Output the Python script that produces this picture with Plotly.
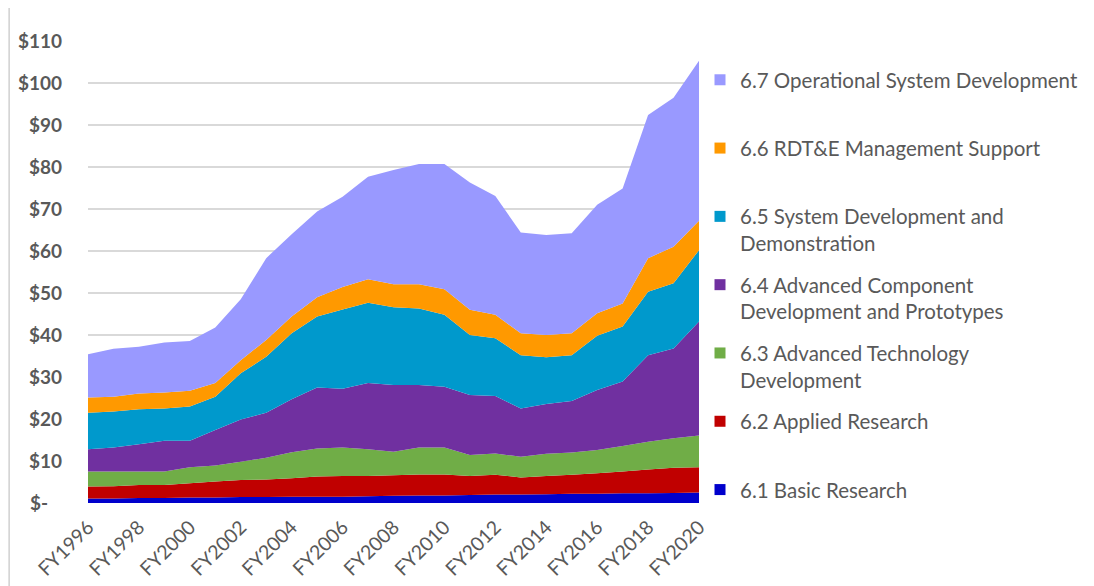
import plotly.graph_objects as go

years = list(range(1996, 2021))
tick_years = list(range(1996, 2021, 2))
tick_labels = [f"FY{y}" for y in tick_years]

basic_research = [1.1, 1.1, 1.2, 1.2, 1.3, 1.3, 1.4, 1.4, 1.5, 1.5, 1.5, 1.6, 1.7,
                  1.8, 1.8, 1.9, 2.0, 2.0, 2.1, 2.2, 2.2, 2.3, 2.3, 2.4, 2.5]
applied_research = [2.8, 2.9, 3.1, 3.1, 3.4, 3.8, 4.1, 4.2, 4.4, 4.8, 4.9, 4.8, 4.9,
                    5.0, 5.0, 4.5, 4.7, 4.1, 4.3, 4.5, 4.9, 5.2, 5.7, 6.0, 6.0]
adv_tech_dev = [3.6, 3.5, 3.2, 3.2, 3.8, 3.8, 4.3, 5.2, 6.2, 6.7, 6.8, 6.4, 5.6,
                6.4, 6.4, 5.0, 5.1, 4.9, 5.3, 5.3, 5.5, 6.1, 6.6, 7.0, 7.6]
adv_comp_dev = [5.3, 5.7, 6.5, 7.3, 6.3, 8.5, 10.1, 10.7, 12.6, 14.5, 14.0, 15.8, 15.9,
                14.9, 14.5, 14.3, 13.7, 11.5, 11.9, 12.3, 14.3, 15.3, 20.6, 21.4, 27.1]
sys_dev_demo = [8.7, 8.6, 8.3, 7.7, 8.2, 7.9, 11.0, 13.3, 15.7, 16.9, 18.9, 19.1, 18.5,
                18.2, 17.1, 14.3, 13.7, 12.7, 11.1, 10.9, 12.9, 13.1, 15.1, 15.5, 17.0]
mgmt_support = [3.6, 3.5, 3.8, 3.8, 3.7, 3.3, 3.1, 4.0, 4.0, 4.6, 5.3, 5.6, 5.5,
                5.8, 6.1, 6.0, 5.6, 5.2, 5.3, 5.2, 5.4, 5.5, 8.0, 8.7, 7.0]
op_sys_dev = [10.3, 11.4, 11.1, 11.9, 11.9, 13.2, 14.5, 19.5, 19.6, 20.4, 21.5, 24.4, 27.2,
              28.6, 29.8, 30.3, 28.3, 24.0, 23.8, 23.8, 25.8, 27.4, 34.1, 35.5, 38.1]

y_ticks = list(range(0, 111, 10))
y_tick_labels = ["$-\u00a0\u00a0\u00a0"] + [f"${v}" for v in y_ticks[1:]]

series = [
    ("6.1 Basic Research", basic_research, "#0000CC"),
    ("6.2 Applied Research", applied_research, "#C00000"),
    ("6.3 Advanced Technology<br>Development", adv_tech_dev, "#70AD47"),
    ("6.4 Advanced Component<br>Development and Prototypes", adv_comp_dev, "#7030A0"),
    ("6.5 System Development and<br>Demonstration", sys_dev_demo, "#0099CC"),
    ("6.6 RDT&E Management Support", mgmt_support, "#FF9900"),
    ("6.7 Operational System Development", op_sys_dev, "#9999FF"),
]

fig = go.Figure()
for name, vals, color in series:
    fig.add_trace(go.Scatter(
        x=years, y=vals, name=name.replace("<br>", " "), stackgroup="one",
        mode="none", fillcolor=color, showlegend=False,
    ))

# legend entries (square swatches, top to bottom as in the original)
for i, (name, vals, color) in enumerate(reversed(series)):
    label = name if "<br>" in name else name + "<br>\u00a0"
    fig.add_trace(go.Scatter(
        x=[None], y=[None], mode="markers", name=label,
        marker=dict(symbol="square", size=11, color=color),
        legendgroup=f"g{i}", showlegend=True,
    ))

grey = "#595959"
# the page body has an 8px default margin; offsets below compensate for it
fig.update_layout(
    width=1086, height=578,
    margin=dict(l=80, r=394, t=33, b=83),
    paper_bgcolor="white", plot_bgcolor="white",
    font=dict(family="Lato, Open Sans, sans-serif", color=grey),
    showlegend=True,
    legend=dict(
        x=1.0, y=0.959, xanchor="left", yanchor="top",
        font=dict(size=20.5, color=grey), valign="top",
        traceorder="grouped", tracegroupgap=12, itemwidth=30,
        maxheight=575, bgcolor="rgba(0,0,0,0)",
    ),
    xaxis=dict(
        range=[1996, 2020], tickvals=tick_years, ticktext=tick_labels,
        tickangle=-45, showgrid=False, zeroline=False, showline=False,
        tickfont=dict(size=19.5, color=grey),
        ticklabelstandoff=8, automargin=False,
    ),
    yaxis=dict(
        range=[0, 110], tickvals=y_ticks, ticktext=y_tick_labels,
        showgrid=True, gridcolor="#D9D9D9", gridwidth=1.5, zeroline=False,
        tickfont=dict(size=19, color=grey, weight="bold"),
        ticklabelstandoff=25, automargin=False,
    ),
    shapes=[dict(type="line", xref="paper", yref="paper",
                 x0=-79 / 612, x1=-79 / 612, y0=-83 / 462, y1=(503) / 462,
                 line=dict(color="#D0D0D0", width=1.5))],
)

fig.write_html("out.html")
